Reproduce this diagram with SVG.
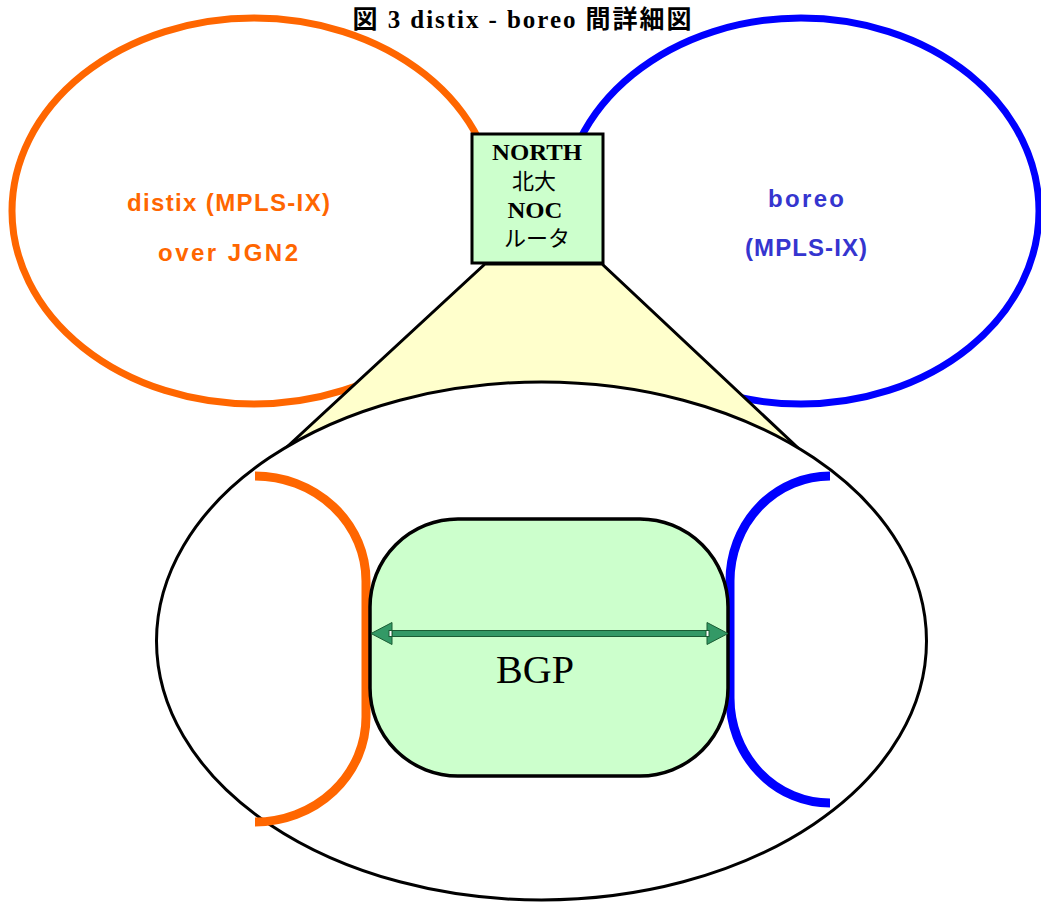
<svg xmlns="http://www.w3.org/2000/svg" width="1041" height="905" viewBox="0 0 1041 905">
<style>
.serif{font-family:"Liberation Serif","Noto Sans CJK JP",serif;fill:#000}
.sans{font-family:"Liberation Sans","DejaVu Sans",sans-serif;font-weight:bold;font-size:24px}
.blk{stroke:#000;stroke-width:3}
</style>
<rect width="1041" height="905" fill="#fff"/>
<g id="distix">
<ellipse cx="254" cy="211" rx="242" ry="193" fill="none" stroke="#ff6600" stroke-width="7"/>
<text class="sans" fill="#ff6600" x="228.5" y="211" text-anchor="middle" textLength="203" lengthAdjust="spacing">distix (MPLS-IX)</text>
<text class="sans" fill="#ff6600" x="228" y="261" text-anchor="middle" textLength="140" lengthAdjust="spacing">over JGN2</text>
</g>
<g id="boreo">
<ellipse cx="801" cy="211" rx="238" ry="193" fill="none" stroke="#0000ff" stroke-width="7"/>
<text class="sans" fill="#3535cf" x="806" y="207" text-anchor="middle" textLength="76" lengthAdjust="spacing">boreo</text>
<text class="sans" fill="#3535cf" x="806" y="256" text-anchor="middle" textLength="122" lengthAdjust="spacing">(MPLS-IX)</text>
</g>
<g id="zoom-cone">
<polygon points="485,264 602,264 797,447 287,447" fill="#ffffcc" class="blk" stroke-linejoin="miter"/>
</g>
<g id="north-router">
<rect x="472" y="134" width="131" height="129" fill="#ccffcc" class="blk"/>
<text class="serif" x="537" y="160" text-anchor="middle" font-size="24" font-weight="bold" textLength="90" lengthAdjust="spacingAndGlyphs">NORTH</text>
<text class="serif" x="534" y="189" text-anchor="middle" font-size="22">北大</text>
<text class="serif" x="535" y="218" text-anchor="middle" font-size="24" font-weight="bold" textLength="55" lengthAdjust="spacingAndGlyphs">NOC</text>
<text class="serif" x="537" y="246" text-anchor="middle" font-size="22">ルータ</text>
</g>
<g id="detail">
<ellipse cx="541.5" cy="641" rx="385" ry="259" fill="#fff" class="blk"/>
</g>
<g id="distix-edge">
<path d="M255,476 A111,105 0 0 1 366,581 L366,717 A111,105 0 0 1 255,822" fill="none" stroke="#ff6600" stroke-width="9"/>
</g>
<g id="boreo-edge">
<path d="M830,476 A100,105 0 0 0 730,581 L730,698 A100,105 0 0 0 830,803" fill="none" stroke="#0000ff" stroke-width="9"/>
</g>
<g id="bgp">
<rect x="370" y="519" width="358" height="257" rx="88" ry="88" fill="#ccffcc" stroke="#000" stroke-width="3.5"/>
<text class="serif" x="535" y="683" text-anchor="middle" font-size="39" textLength="78" lengthAdjust="spacingAndGlyphs">BGP</text>
</g>
<g id="connectors">
<g fill="#339966" stroke="#1a5c33" stroke-width="1">
<rect x="390" y="630.5" width="318" height="6"/>
<polygon points="371,633.5 392,622.5 392,644.5"/>
<polygon points="728,633.5 707,622.5 707,644.5"/>
<rect x="389" y="630.5" width="3" height="6" fill="#fff"/>
<rect x="706" y="630.5" width="3" height="6" fill="#fff"/>
</g>
</g>
<g id="title">
<text class="serif" x="522" y="28" text-anchor="middle" font-size="25" font-weight="bold" textLength="339" lengthAdjust="spacing">図 3 distix - boreo 間詳細図</text>
</g>
</svg>
